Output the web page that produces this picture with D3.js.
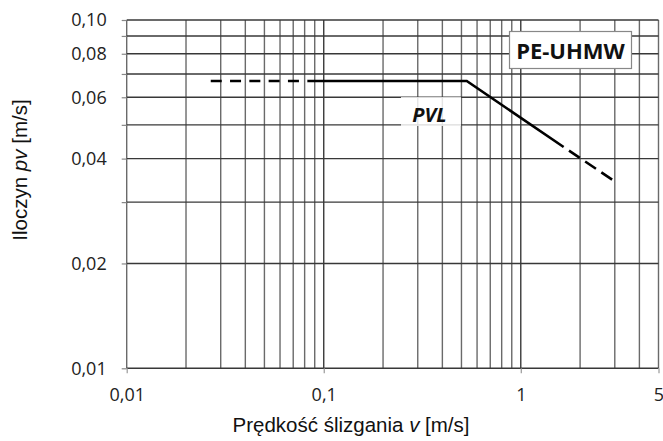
<!DOCTYPE html>
<html>
<head>
<meta charset="utf-8">
<script src="https://cdn.jsdelivr.net/npm/d3@7"></script>
<style>
  body { margin: 0; background: #fff; }
  svg { display: block; }
</style>
</head>
<body>
<div id="chart"></div>
<script>
// grid values (log axes)
var xGrid = [0.01, 0.02, 0.03, 0.04, 0.05, 0.06, 0.07, 0.08, 0.09,
             0.1, 0.2, 0.3, 0.4, 0.5, 0.6, 0.7, 0.8, 0.9,
             1, 2, 3, 4, 5];
var yGrid = [0.01, 0.02, 0.03, 0.04, 0.05, 0.06, 0.07, 0.08, 0.09, 0.1];

// tick labels
var xTicks = [0.01, 0.1, 1, 5];
var yTicks = [0.01, 0.02, 0.04, 0.06, 0.08, 0.10];

// PVL curve: [v, pv]
var pvlDashLeft = [[0.0267, 0.0668], [0.083, 0.0668]];
var pvlSolid = [[0.083, 0.0668], [0.532, 0.0668], [1.65, 0.0432]];
var pvlDashRight = [[1.65, 0.0432], [2.93, 0.0347]];

var W = 663, H = 441;

var svg = d3.select("#chart")
  .append("svg")
    .attr("width", W)
    .attr("height", H);

var x = d3.scaleLog()
  .domain([0.01, 5])
  .range([126.7, 658.5]);

var y = d3.scaleLog()
  .domain([0.01, 0.1])
  .range([368.3, 20]);

// vertical grid lines
svg.append("g")
  .selectAll("line")
  .data(xGrid)
  .enter()
  .append("line")
    .attr("x1", function(d) { return x(d); })
    .attr("x2", function(d) { return x(d); })
    .attr("y1", y(0.1))
    .attr("y2", y(0.01))
    .attr("stroke", function(d) { return (d == 0.1 || d == 1) ? "#3a3a3a" : "#6a6a6a"; })
    .attr("stroke-width", 1.4);

// horizontal grid lines
svg.append("g")
  .selectAll("line")
  .data(yGrid)
  .enter()
  .append("line")
    .attr("x1", x(0.01))
    .attr("x2", x(5))
    .attr("y1", function(d) { return y(d); })
    .attr("y2", function(d) { return y(d); })
    .attr("stroke", "#383838")
    .attr("stroke-width", 1.4);

// Y axis: ticks at every grid line, labels only on some
var yAxis = d3.axisLeft(y)
  .tickValues(yGrid)
  .tickSize(5)
  .tickFormat(function(d) {
    return yTicks.some(function(t) { return Math.abs(t - d) < 1e-9; })
      ? d3.format(".2f")(d).replace(".", ",") : "";
  });

svg.append("g")
  .attr("transform", "translate(" + x(0.01) + ",0)")
  .call(yAxis)
  .call(function(g) {
    g.select(".domain").remove();
    g.selectAll(".tick line").attr("stroke", "#888").attr("stroke-width", 1.2);
    g.selectAll(".tick text")
      .attr("x", -20)
      .attr("fill", "#222")
      .style("font-family", "'Open Sans', sans-serif")
      .style("font-size", "18px");
  });

// X axis
var xAxis = d3.axisBottom(x)
  .tickValues(xTicks)
  .tickSize(5)
  .tickFormat(function(d) { return String(d).replace(".", ","); });

svg.append("g")
  .attr("transform", "translate(0," + y(0.01) + ")")
  .call(xAxis)
  .call(function(g) {
    g.select(".domain").remove();
    g.selectAll(".tick line").attr("stroke", "#999").attr("stroke-width", 1.2);
    g.selectAll(".tick text")
      .attr("y", 20)
      .attr("fill", "#222")
      .style("font-family", "'Open Sans', sans-serif")
      .style("font-size", "18px");
  });

// PVL label background (cuts the grid)
svg.append("rect")
  .attr("x", 401)
  .attr("y", 97)
  .attr("width", 60)
  .attr("height", 29)
  .attr("fill", "#fff")
  .attr("opacity", 0.82);

svg.append("text")
  .attr("x", 429.5)
  .attr("y", 121.5)
  .attr("text-anchor", "middle")
  .style("font-family", "'Open Sans', sans-serif")
  .style("font-weight", "bold")
  .style("font-style", "italic")
  .style("font-size", "20px")
  .attr("fill", "#111")
  .text("PVL");

// PVL line
var line = d3.line()
  .x(function(d) { return x(d[0]); })
  .y(function(d) { return y(d[1]); });

svg.append("path")
  .datum(pvlDashLeft)
  .attr("d", line)
  .attr("fill", "none")
  .attr("stroke", "#000")
  .attr("stroke-width", 2.6)
  .attr("stroke-dasharray", "11,8.3");

svg.append("path")
  .datum(pvlSolid)
  .attr("d", line)
  .attr("fill", "none")
  .attr("stroke", "#000")
  .attr("stroke-width", 2.6)
  .attr("stroke-linejoin", "miter");

// starts with a gap, then three dashes
svg.append("path")
  .datum(pvlDashRight)
  .attr("d", line)
  .attr("fill", "none")
  .attr("stroke", "#000")
  .attr("stroke-width", 2.6)
  .attr("stroke-dasharray", "13,6.5")
  .attr("stroke-dashoffset", 13);

// material box
svg.append("rect")
  .attr("x", 509.5)
  .attr("y", 31.5)
  .attr("width", 122)
  .attr("height", 37)
  .attr("fill", "#fff")
  .attr("stroke", "#888")
  .attr("stroke-width", 1.2);

svg.append("text")
  .attr("x", 570.5)
  .attr("y", 59)
  .attr("text-anchor", "middle")
  .style("font-family", "'Open Sans', sans-serif")
  .style("font-weight", "bold")
  .style("font-size", "22px")
  .attr("fill", "#111")
  .text("PE-UHMW");

// axis titles
var xTitle = svg.append("text")
  .attr("x", 351)
  .attr("y", 431.5)
  .attr("text-anchor", "middle")
  .style("font-family", "'Liberation Sans', Arial, sans-serif")
  .style("font-size", "20.5px")
  .attr("fill", "#111");
xTitle.append("tspan").text("Prędkość ślizgania ");
xTitle.append("tspan").style("font-style", "italic").text("v");
xTitle.append("tspan").text(" [m/s]");

var yTitle = svg.append("text")
  .attr("transform", "translate(26.5,170) rotate(-90)")
  .attr("text-anchor", "middle")
  .style("font-family", "'Liberation Sans', Arial, sans-serif")
  .style("font-size", "20.5px")
  .attr("fill", "#111");
yTitle.append("tspan").text("Iloczyn ");
yTitle.append("tspan").style("font-style", "italic").text("pv");
yTitle.append("tspan").text(" [m/s]");
</script>
</body>
</html>
